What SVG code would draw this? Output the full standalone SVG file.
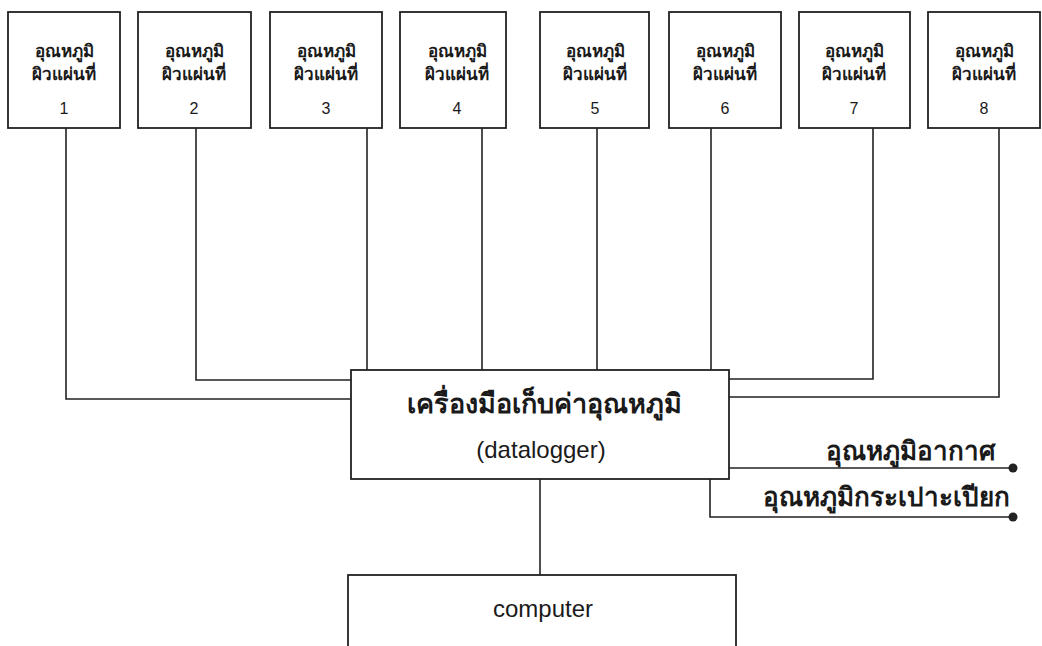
<svg xmlns="http://www.w3.org/2000/svg" width="1042" height="646" viewBox="0 0 1042 646">
<style>
.box{fill:#fff;stroke:#222;stroke-width:1.8}
.ln{fill:none;stroke:#222;stroke-width:1.6}
.t{font-family:"Liberation Sans","Noto Sans",sans-serif;fill:#1a1a1a;text-anchor:middle}
.th{font-size:17px;font-weight:bold}
.num{font-size:16px}
.big{font-size:27px;font-weight:bold}
.lat{font-size:24px}
.lab{font-size:26px;font-weight:bold;text-anchor:end}
</style>
<rect width="1042" height="646" fill="#fff"/>
<g id="connectors">
<polyline class="ln" points="66,128 66,399 351,399"/>
<polyline class="ln" points="196,128 196,380 351,380"/>
<line class="ln" x1="367" y1="128" x2="367" y2="370"/>
<line class="ln" x1="482" y1="128" x2="482" y2="370"/>
<line class="ln" x1="597" y1="128" x2="597" y2="370"/>
<line class="ln" x1="711" y1="128" x2="711" y2="370"/>
<polyline class="ln" points="873,128 873,379 729,379"/>
<polyline class="ln" points="999,128 999,397 729,397"/>
<line class="ln" x1="540" y1="479" x2="540" y2="575"/>
<line class="ln" x1="729" y1="468" x2="1013" y2="468"/>
<polyline class="ln" points="710,479 710,517 1013,517"/>
<circle cx="1013" cy="468" r="4.5" fill="#222"/>
<circle cx="1013" cy="517" r="4.5" fill="#222"/>
</g>
<g id="s1"><rect class="box" x="8" y="12" width="112" height="116"/><text class="t th" x="64" y="57">อุณหภูมิ</text><text class="t th" x="64" y="80">ผิวแผ่นที่</text><text class="t num" x="64" y="114">1</text></g>
<g id="s2"><rect class="box" x="138" y="12" width="113" height="116"/><text class="t th" x="194" y="57">อุณหภูมิ</text><text class="t th" x="194" y="80">ผิวแผ่นที่</text><text class="t num" x="194" y="114">2</text></g>
<g id="s3"><rect class="box" x="270" y="12" width="112" height="116"/><text class="t th" x="326" y="57">อุณหภูมิ</text><text class="t th" x="326" y="80">ผิวแผ่นที่</text><text class="t num" x="326" y="114">3</text></g>
<g id="s4"><rect class="box" x="400" y="12" width="106" height="116"/><text class="t th" x="457" y="57">อุณหภูมิ</text><text class="t th" x="457" y="80">ผิวแผ่นที่</text><text class="t num" x="457" y="114">4</text></g>
<g id="s5"><rect class="box" x="540" y="12" width="109" height="116"/><text class="t th" x="595" y="57">อุณหภูมิ</text><text class="t th" x="595" y="80">ผิวแผ่นที่</text><text class="t num" x="595" y="114">5</text></g>
<g id="s6"><rect class="box" x="669" y="12" width="112" height="116"/><text class="t th" x="725" y="57">อุณหภูมิ</text><text class="t th" x="725" y="80">ผิวแผ่นที่</text><text class="t num" x="725" y="114">6</text></g>
<g id="s7"><rect class="box" x="799" y="12" width="111" height="116"/><text class="t th" x="854" y="57">อุณหภูมิ</text><text class="t th" x="854" y="80">ผิวแผ่นที่</text><text class="t num" x="854" y="114">7</text></g>
<g id="s8"><rect class="box" x="928" y="12" width="112" height="116"/><text class="t th" x="984" y="57">อุณหภูมิ</text><text class="t th" x="984" y="80">ผิวแผ่นที่</text><text class="t num" x="984" y="114">8</text></g>
<g id="datalogger"><rect class="box" x="351" y="370" width="378" height="109"/><text class="t big" x="544" y="413">เครื่องมือเก็บค่าอุณหภูมิ</text><text class="t lat" x="541" y="458">(datalogger)</text></g>
<g id="computer"><rect class="box" x="348" y="575" width="388" height="80"/><text class="t lat" x="543" y="617">computer</text></g>
<g id="labels"><text class="t lab" x="996" y="460">อุณหภูมิอากาศ</text><text class="t lab" x="1010" y="506">อุณหภูมิกระเปาะเปียก</text></g>
</svg>
